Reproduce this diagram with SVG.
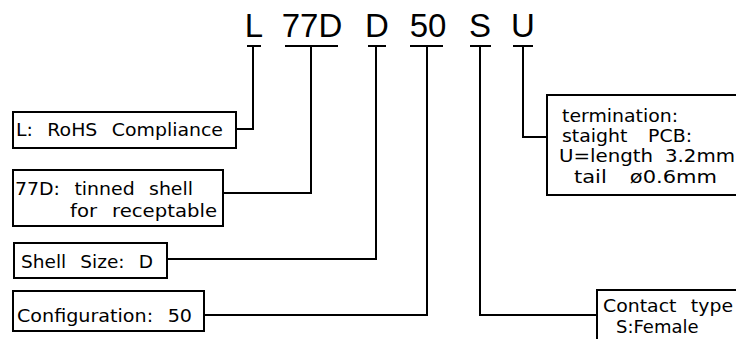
<svg xmlns="http://www.w3.org/2000/svg" width="736" height="339" viewBox="0 0 736 339">
<style>
.bg{fill:#fff}
.box{fill:#fff;stroke:#000;stroke-width:2}
.ln{fill:none;stroke:#000;stroke-width:2}
.big{font-family:"Liberation Sans",Arial,sans-serif;font-size:33px;fill:#000;text-anchor:middle}
.lbl{font-family:"DejaVu Sans","Noto Sans",sans-serif;font-size:18px;fill:#000;word-spacing:8px}
</style>
<rect class="bg" x="0" y="0" width="736" height="339"/>
<g id="code">
<text class="big" x="254" y="37">L</text>
<text class="big" x="312" y="37">77D</text>
<text class="big" x="377" y="37">D</text>
<text class="big" x="428" y="37">50</text>
<text class="big" x="480" y="37">S</text>
<text class="big" x="523" y="37">U</text>
</g>
<g id="connectors">
<path class="ln" d="M247 46H261M285 46H338M368 46H386M410 46H443M470 46H491M513 46H533"/>
<path class="ln" d="M236 129H253V46"/>
<path class="ln" d="M223 193H311V46"/>
<path class="ln" d="M167 259H376V46"/>
<path class="ln" d="M204 315H427V46"/>
<path class="ln" d="M597 315H480V46"/>
<path class="ln" d="M547 137H523V46"/>
</g>
<g id="node-L">
<rect class="box" x="13" y="112" width="223" height="36"/>
<text class="lbl" x="16" y="136" textLength="207" lengthAdjust="spacingAndGlyphs">L: RoHS Compliance</text>
</g>
<g id="node-77D">
<rect class="box" x="13" y="170" width="210" height="56"/>
<text class="lbl" x="15" y="195" textLength="178" lengthAdjust="spacingAndGlyphs">77D: tinned shell</text>
<text class="lbl" x="70" y="217" textLength="147" lengthAdjust="spacingAndGlyphs">for receptable</text>
</g>
<g id="node-D">
<rect class="box" x="14" y="243" width="153" height="35"/>
<text class="lbl" x="21" y="268" textLength="132" lengthAdjust="spacingAndGlyphs">Shell Size: D</text>
</g>
<g id="node-50">
<rect class="box" x="13" y="291" width="191" height="40"/>
<text class="lbl" x="17" y="322" textLength="175" lengthAdjust="spacingAndGlyphs">Configuration: 50</text>
</g>
<g id="node-S">
<rect class="box" x="597" y="290" width="145" height="60"/>
<text class="lbl" x="603" y="312" textLength="130" lengthAdjust="spacingAndGlyphs">Contact type</text>
<text class="lbl" x="616" y="333">S:Female</text>
</g>
<g id="node-U">
<rect class="box" x="547" y="95" width="195" height="100"/>
<text class="lbl" x="562" y="122" textLength="116" lengthAdjust="spacingAndGlyphs">termination:</text>
<text class="lbl" x="562" y="142" textLength="130" lengthAdjust="spacingAndGlyphs" style="word-spacing:14px">staight PCB:</text>
<text class="lbl" x="559" y="162" textLength="176" lengthAdjust="spacingAndGlyphs" style="word-spacing:5px">U=length 3.2mm</text>
<text class="lbl" x="574" y="183" textLength="143" lengthAdjust="spacingAndGlyphs" style="word-spacing:14px">tail ø0.6mm</text>
</g>
</svg>
